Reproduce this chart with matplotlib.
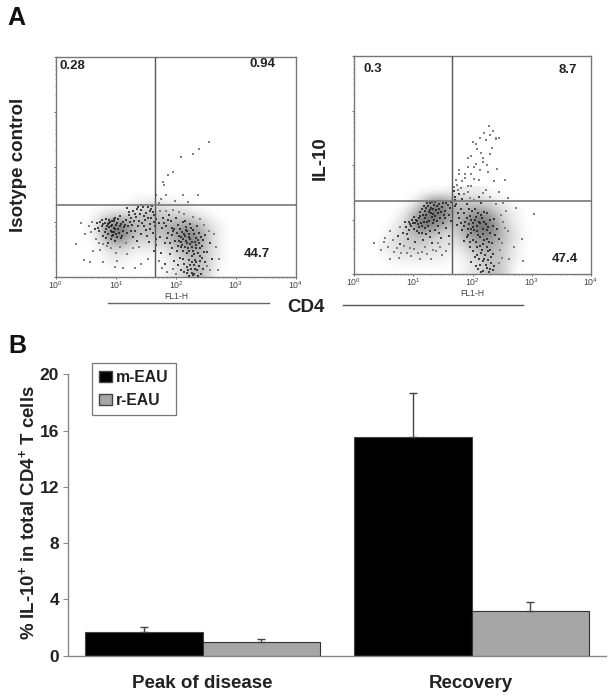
import numpy as np
import matplotlib
matplotlib.use('Agg')
import matplotlib.pyplot as plt
from matplotlib.patches import Patch

plt.rcParams['font.family'] = ['Liberation Sans', 'DejaVu Sans']
plt.rcParams['mathtext.fontset'] = 'custom'
plt.rcParams['mathtext.rm'] = 'Liberation Sans'
plt.rcParams['mathtext.bf'] = 'Liberation Sans:bold'

W, H = 613, 700

# panel A, all in decades of fluorescence (0 = 10^0, 4 = 10^4)
density_x_edges = [0.4, 3.0]
density_y_edges = [0.0, 1.6]
left_density = [
    [0, 0, 0, 0, 0, 0, 0, 0, 0, 0, 0, 0, 0],
    [0, 0, 0, 0, 1, 2, 2, 1, 1, 0, 0, 0, 0],
    [0, 1, 3, 3, 3, 4, 4, 3, 3, 2, 1, 0, 0],
    [0, 2, 8, 9, 4, 4, 4, 5, 6, 6, 3, 1, 0],
    [0, 1, 6, 7, 3, 3, 3, 4, 7, 8, 4, 1, 0],
    [0, 0, 2, 2, 1, 1, 1, 2, 4, 6, 3, 1, 0],
    [0, 0, 1, 1, 0, 0, 0, 1, 2, 4, 3, 1, 0],
    [0, 0, 0, 0, 0, 0, 0, 1, 2, 5, 3, 0, 0],
]
right_density = [
    [0, 0, 0, 0, 0, 0, 1, 1, 1, 0, 0, 0, 0],
    [0, 0, 0, 2, 7, 7, 4, 3, 3, 2, 1, 0, 0],
    [0, 0, 2, 6, 9, 8, 4, 5, 7, 5, 2, 1, 0],
    [0, 1, 3, 9, 8, 5, 3, 7, 9, 8, 3, 1, 0],
    [0, 2, 3, 4, 3, 2, 2, 5, 7, 7, 4, 2, 0],
    [1, 2, 3, 3, 2, 2, 1, 3, 5, 5, 3, 1, 0],
    [0, 1, 1, 1, 1, 1, 0, 1, 3, 4, 3, 1, 0],
    [0, 0, 0, 0, 0, 0, 0, 1, 2, 4, 3, 0, 0],
]

left_cells = [
    (0.93, 0.95), (0.88, 0.91), (0.97, 1.02), (1.03, 0.88), (0.81, 0.99), (0.91, 0.84), (1.08, 0.97), (0.76, 0.92),
    (0.95, 0.76), (1.01, 0.72), (0.86, 0.78), (1.12, 0.83), (0.72, 0.83), (0.99, 1.08), (0.84, 1.05), (1.16, 1.03),
    (0.68, 0.98), (0.92, 0.69), (1.06, 1.11), (0.79, 0.74), (1.2, 0.92), (0.65, 0.88), (1.1, 0.75), (0.9, 1.0),
    (0.96, 0.9), (0.83, 0.87), (1.0, 0.95), (1.05, 0.8), (0.87, 0.96), (0.94, 0.82), (1.13, 0.91), (0.77, 1.03),
    (1.25, 1.07), (1.31, 1.15), (1.38, 1.02), (1.42, 1.22), (1.27, 0.95), (1.47, 1.11), (1.53, 1.27), (1.35, 1.24),
    (1.58, 1.08), (1.44, 0.98), (1.62, 1.19), (1.5, 0.86), (1.56, 0.97), (1.6, 1.29), (1.32, 0.84), (1.65, 0.92),
    (1.66, 1.05), (1.62, 0.8), (1.41, 1.31), (1.22, 1.18), (1.18, 1.26), (1.29, 0.72), (1.55, 0.63), (1.63, 0.48),
    (1.72, 0.98), (1.78, 1.08), (1.84, 0.92), (1.91, 1.01), (1.97, 0.87), (2.04, 0.95), (2.1, 0.82), (2.16, 0.91),
    (2.22, 0.78), (2.28, 0.86), (2.33, 0.71), (2.38, 0.8), (2.45, 0.67), (2.12, 0.69), (2.05, 0.75), (1.98, 0.66),
    (2.19, 0.62), (2.26, 0.55), (2.31, 0.63), (2.4, 0.52), (2.15, 1.02), (2.24, 0.97), (2.35, 0.93), (1.88, 1.12),
    (1.74, 0.72), (1.81, 0.61), (1.93, 0.53), (2.01, 0.47), (2.09, 0.55), (2.18, 0.44), (2.27, 0.39), (2.36, 0.43),
    (2.44, 0.35), (2.21, 0.31), (2.3, 0.22), (2.14, 0.24), (2.25, 0.14), (2.35, 0.12), (2.19, 0.07), (2.28, 0.04),
    (2.38, 0.2), (2.48, 0.28), (2.09, 0.12), (2.42, 0.06), (2.52, 0.46), (2.57, 0.61), (2.49, 0.77), (2.6, 0.33),
    (2.07, 0.35), (1.96, 0.3), (1.82, 0.24), (1.75, 0.43), (2.23, 0.69), (2.13, 0.78), (2.34, 0.58), (2.29, 0.47),
    (2.17, 0.86), (2.08, 0.63), (2.42, 0.73), (2.2, 0.52), (2.32, 0.31), (2.26, 0.08), (1.86, 0.8), (1.94, 0.76),
    (0.89, 0.98), (0.94, 1.01), (0.99, 0.87), (1.02, 0.99), (0.85, 0.93), (0.91, 0.92), (0.97, 0.81), (1.07, 0.92),
    (0.79, 0.96), (0.82, 0.81), (1.0, 0.78), (1.04, 1.05), (0.88, 1.04), (0.93, 0.74), (0.96, 1.06), (1.11, 1.0),
    (0.74, 1.0), (0.7, 0.9), (1.15, 0.94), (0.84, 0.71), (1.09, 0.71), (1.18, 0.8), (0.98, 0.65), (0.87, 0.62),
    (1.23, 1.0), (1.34, 1.09), (1.4, 1.14), (1.28, 1.2), (1.45, 1.27), (1.5, 1.17), (1.37, 0.93), (1.56, 1.2),
    (1.48, 1.03), (1.53, 1.08), (1.59, 1.23), (1.63, 1.12), (1.3, 1.02), (1.21, 1.12), (1.36, 1.28), (1.46, 0.92),
    (1.57, 0.88), (1.64, 1.0), (1.67, 0.7), (1.66, 0.58), (1.52, 0.74), (1.42, 0.78), (1.25, 0.84), (1.35, 0.66),
    (1.76, 0.9), (1.8, 0.99), (1.87, 1.04), (1.93, 0.9), (2.0, 1.08), (2.07, 0.88), (2.11, 1.0), (2.19, 0.84),
    (2.25, 0.9), (2.3, 0.79), (2.15, 0.74), (2.09, 0.72), (2.01, 0.8), (2.21, 0.72), (2.27, 0.64), (2.36, 0.68),
    (2.17, 0.66), (2.1, 0.59), (2.05, 0.66), (2.24, 0.6), (2.33, 0.52), (2.15, 0.55), (2.22, 0.47), (2.3, 0.41),
    (2.12, 0.47), (2.04, 0.56), (1.9, 0.62), (1.85, 0.71), (1.95, 0.83), (2.38, 0.61), (2.43, 0.57), (2.47, 0.45),
    (2.4, 0.38), (2.34, 0.27), (2.27, 0.28), (2.18, 0.19), (2.24, 0.22), (2.32, 0.15), (2.4, 0.29), (2.45, 0.14),
    (2.3, 0.06), (2.22, 0.02), (2.14, 0.1), (2.36, 0.02), (2.2, 0.13), (2.12, 0.33), (2.03, 0.22), (1.9, 0.42),
]
left_faint = [
    (0.33, 0.6), (0.58, 0.82), (0.66, 0.7), (0.46, 0.31), (0.56, 0.27), (0.62, 0.48), (0.73, 0.5), (0.79, 0.28),
    (1.0, 0.44), (1.01, 0.29), (0.98, 0.18), (1.12, 0.16), (1.41, 0.24), (1.32, 0.16), (1.53, 0.33), (0.85, 0.56),
    (1.19, 0.41), (1.28, 0.53), (2.55, 2.45), (2.39, 2.33), (2.28, 2.24), (2.09, 2.18), (1.95, 1.91), (1.87, 1.85),
    (1.79, 1.73), (1.8, 1.67), (1.67, 1.49), (1.83, 1.49), (2.12, 1.49), (2.37, 1.49), (1.75, 1.42), (1.98, 1.38),
    (2.2, 1.36), (1.71, 1.35), (2.72, 0.32), (2.67, 0.55), (2.7, 0.13), (2.64, 0.78), (0.48, 0.78), (0.42, 0.98),
    (0.6, 1.0), (0.55, 0.93), (0.71, 0.62), (0.78, 0.6), (0.92, 0.53), (1.07, 0.55), (1.16, 0.62), (1.39, 0.55),
    (1.76, 0.17), (1.72, 0.3), (1.85, 0.09), (1.95, 0.14), (2.0, 0.05), (2.52, 0.2), (2.56, 0.13), (2.55, 0.84),
    (2.47, 0.94), (2.4, 1.05), (2.28, 1.1), (2.05, 1.18), (1.73, 1.2), (1.95, 1.22), (2.14, 1.15), (1.83, 1.2),
]

right_cells = [
    (1.28, 1.17), (1.21, 1.22), (1.35, 1.26), (1.42, 1.12), (1.16, 1.08), (1.31, 1.05), (1.48, 1.23), (1.24, 1.31),
    (1.38, 1.18), (1.12, 1.14), (1.54, 1.16), (1.45, 1.02), (1.09, 1.02), (1.03, 0.93), (0.97, 0.88), (1.1, 0.86),
    (1.18, 0.95), (0.92, 0.96), (1.06, 0.79), (1.25, 0.88), (1.33, 0.94), (0.87, 0.87), (1.15, 0.75), (1.41, 0.88),
    (1.5, 0.94), (1.58, 1.27), (1.6, 1.09), (1.02, 1.05), (1.29, 0.78), (1.2, 1.03), (1.37, 1.33), (1.5, 1.31),
    (1.44, 1.29), (1.13, 0.93), (0.98, 1.0), (1.34, 1.1), (1.26, 0.98), (1.08, 0.91), (1.19, 1.16), (1.4, 1.24),
    (0.83, 0.76), (0.74, 0.69), (0.91, 0.65), (1.03, 0.58), (1.17, 0.63), (1.32, 0.56), (1.47, 0.66), (0.78, 0.55),
    (2.04, 0.99), (1.96, 1.06), (2.1, 1.12), (1.88, 0.95), (2.16, 1.02), (2.01, 0.87), (1.92, 0.83), (2.22, 0.92),
    (2.08, 0.78), (1.85, 1.12), (2.18, 0.82), (2.27, 0.86), (2.13, 0.93), (1.98, 0.75), (2.3, 0.75), (2.05, 1.2),
    (1.78, 1.02), (1.83, 0.8), (2.12, 0.67), (2.25, 0.65), (2.0, 0.62), (1.9, 0.68), (2.33, 0.56), (2.18, 0.55),
    (2.07, 0.5), (1.95, 0.49), (2.26, 0.43), (2.14, 0.38), (2.35, 0.36), (2.04, 0.31), (2.2, 0.28), (2.31, 0.2),
    (2.13, 0.17), (2.24, 0.11), (2.35, 0.08), (2.18, 0.06), (2.28, 0.03), (2.09, 0.09), (1.94, 1.2), (1.72, 1.28),
    (1.7, 1.42), (1.69, 1.52), (1.71, 1.35), (1.77, 1.47), (1.83, 1.38), (2.11, 1.42), (2.15, 1.31), (2.24, 1.12),
    (2.36, 1.01), (2.42, 0.83), (2.44, 0.64), (1.74, 0.9),
    (1.3, 1.22), (1.26, 1.13), (1.33, 1.19), (1.22, 1.09), (1.37, 1.07), (1.43, 1.2), (1.29, 1.3), (1.47, 1.14),
    (1.52, 1.08), (1.18, 1.25), (1.15, 1.19), (1.11, 1.07), (1.23, 0.96), (1.35, 0.99), (1.4, 0.97), (1.05, 1.0),
    (1.0, 0.93), (0.95, 0.92), (1.07, 0.97), (1.14, 0.88), (1.19, 0.84), (1.01, 0.83), (0.93, 0.8), (1.09, 0.76),
    (0.86, 0.96), (0.89, 0.74), (1.22, 0.73), (1.36, 0.8), (1.28, 0.67), (1.44, 0.76), (1.55, 0.85), (1.6, 0.7),
    (1.56, 1.3), (1.62, 1.22), (1.64, 1.33), (1.54, 1.02), (1.63, 0.98), (1.3, 1.12), (1.25, 1.25), (1.32, 1.33),
    (1.98, 0.99), (2.06, 1.04), (2.01, 0.94), (1.94, 0.92), (2.11, 0.96), (2.08, 0.88), (1.9, 1.03), (2.14, 1.08),
    (1.86, 0.88), (2.19, 0.95), (2.03, 0.8), (1.97, 0.83), (2.24, 0.8), (2.1, 0.72), (2.17, 0.74), (1.93, 0.72),
    (1.8, 0.93), (1.76, 1.12), (1.81, 1.2), (1.99, 1.15), (2.2, 1.14), (2.29, 1.0), (2.34, 0.88), (2.38, 0.72),
    (2.28, 0.58), (2.2, 0.62), (2.06, 0.58), (1.96, 0.58), (1.85, 0.6), (2.12, 0.52), (2.24, 0.5), (2.3, 0.44),
    (2.16, 0.44), (2.0, 0.42), (2.08, 0.35), (2.21, 0.35), (2.31, 0.31), (2.17, 0.23), (2.27, 0.25), (2.36, 0.14),
    (2.22, 0.16), (2.11, 0.27), (1.98, 0.22), (2.06, 0.14), (2.3, 0.1), (2.15, 0.04), (1.7, 1.24), (1.9, 1.28),
]
right_faint = [
    (0.33, 0.56), (0.45, 0.44), (0.52, 0.66), (0.61, 0.78), (0.68, 0.41), (0.76, 0.3), (0.9, 0.38), (1.02, 0.45),
    (1.12, 0.27), (1.24, 0.36), (1.38, 0.42), (1.49, 0.35), (0.6, 0.28), (0.78, 0.87), (1.6, 0.55), (2.52, 0.95),
    (2.6, 0.78), (2.7, 0.5), (2.83, 0.65), (2.62, 0.27), (2.85, 0.24), (3.03, 1.1), (2.73, 1.22), (2.57, 1.15),
    (2.4, 1.28), (2.3, 1.42), (2.44, 1.5), (1.98, 1.62), (2.23, 1.55), (2.11, 1.72), (1.87, 1.83), (2.02, 1.96),
    (2.18, 2.05), (1.92, 2.13), (2.27, 1.87), (2.42, 1.93), (2.08, 2.3), (2.3, 2.2), (2.0, 2.42), (2.12, 2.5),
    (2.2, 2.58), (2.4, 2.5), (2.45, 2.5), (2.35, 2.63), (2.28, 2.72), (1.98, 2.17), (1.78, 1.9), (2.55, 1.72),
    (0.66, 0.62), (0.72, 0.48), (0.84, 0.51), (0.95, 0.47), (1.08, 0.39), (1.2, 0.5), (1.33, 0.44), (1.45, 0.5),
    (0.58, 0.5), (0.5, 0.58), (0.8, 0.38), (0.97, 0.33), (1.15, 0.41), (1.3, 0.28), (1.42, 0.56), (1.55, 0.42),
    (2.5, 0.57), (2.47, 0.44), (2.5, 0.3), (2.45, 0.2), (2.55, 0.85), (2.48, 1.08), (2.52, 1.3), (2.6, 1.4),
    (1.74, 1.63), (1.93, 1.5), (1.82, 1.7), (2.02, 1.75), (1.68, 1.6), (1.72, 1.72), (1.75, 1.55), (1.8, 1.58),
    (1.86, 1.46), (2.02, 1.35), (1.96, 1.4), (2.18, 1.48), (1.92, 1.62), (1.87, 1.77), (1.78, 1.84), (1.98, 1.84),
    (2.12, 1.9), (2.06, 2.02), (1.93, 1.97), (2.15, 2.22), (2.24, 2.0), (2.33, 2.32), (2.22, 2.45), (2.06, 2.38),
    (2.4, 2.48), (2.3, 2.55), (2.17, 2.13), (2.36, 1.7),
]

left_gate = (1.645, 1.31)
right_gate = (1.66, 1.345)

# panel B
conditions = ['Peak of disease', 'Recovery']
m_eau = [1.7, 15.57]
r_eau = [1.0, 3.17]
m_err = [0.36, 3.08]
r_err = [0.17, 0.63]


def px_axes(fig, x0, y0, x1, y1):
    return fig.add_axes([x0 / W, 1 - y1 / H, (x1 - x0) / W, (y1 - y0) / H])


def flow_panel(ax, density, cells, faint, gate):
    ax.imshow(density, cmap='gray_r', vmin=0, vmax=15, aspect='auto', interpolation='bicubic',
              extent=[density_x_edges[0], density_x_edges[1], density_y_edges[0], density_y_edges[1]], zorder=1)
    fx, fy = np.array(faint).T
    ax.scatter(fx, fy, s=1.0, c='#808080', marker='s', linewidths=0, zorder=2)
    cx, cy = np.array(cells).T
    ax.scatter(cx, cy, s=1.1, c='#1a1a1a', marker='s', linewidths=0, alpha=0.8, zorder=2)
    ax.axvline(gate[0], color='#555555', lw=1.0, zorder=3)
    ax.axhline(gate[1], color='#777777', lw=1.2, zorder=3)
    ax.set_xlim(0, 4)
    ax.set_ylim(0, 4)
    decades = [0, 1, 2, 3, 4]
    minor = [d + np.log10(k) for d in range(4) for k in range(2, 10)]
    ax.set_xticks(decades)
    ax.set_xticklabels(['10$\\mathregular{^{%d}}$' % d for d in decades], fontsize=6.3, color='#444444')
    ax.set_yticks(decades)
    ax.set_yticklabels([])
    ax.set_xticks(minor, minor=True)
    ax.set_yticks(minor, minor=True)
    ax.tick_params(which='major', length=1.5, width=0.6, color='#555555', pad=0)
    ax.tick_params(which='minor', length=1.0, width=0.4, color='#555555')
    for sp in ax.spines.values():
        sp.set_color('#777777')
        sp.set_linewidth(1.0)


fig = plt.figure(figsize=(W / 100, H / 100), dpi=100)


def fig_text(x, y, s, **kw):
    kw.setdefault('ha', 'center')
    kw.setdefault('va', 'center')
    kw.setdefault('fontweight', 'bold')
    fig.text(x / W, 1 - y / H, s, **kw)


ax1 = px_axes(fig, 56, 57, 296, 277)
flow_panel(ax1, left_density, left_cells, left_faint, left_gate)
ax2 = px_axes(fig, 354, 56, 591, 274)
flow_panel(ax2, right_density, right_cells, right_faint, right_gate)

fig_text(16, 18, 'A', fontsize=18, color='#111111')
fig_text(17, 346, 'B', fontsize=18, color='#111111')
fig_text(19, 165, 'Isotype control', fontsize=13.5, rotation=90, color='#222222')
fig_text(320, 158, 'IL-10', fontsize=13.5, rotation=90, color='#222222')
fig_text(306, 308, 'CD4', fontsize=13.5, color='#222222')
fig_text(176, 296.5, 'FL1-H', fontsize=6.2, fontweight='normal', color='#444444')
fig_text(472, 293, 'FL1-H', fontsize=6.2, fontweight='normal', color='#444444')
for x, y, s in [(72, 66, '0.28'), (263, 64, '0.94'), (257, 254, '44.7'),
                (373, 69, '0.3'), (568, 70, '8.7'), (565, 259, '47.4')]:
    fig_text(x, y, s, fontsize=9.5, color='#222222')
fig.add_artist(plt.Line2D([108 / W, 269 / W], [1 - 303 / H] * 2, color='#666666', lw=1.0))
fig.add_artist(plt.Line2D([343 / W, 523 / W], [1 - 305 / H] * 2, color='#555555', lw=1.0))

ax3 = px_axes(fig, 68, 374.3, 606, 655.7)
x = np.arange(len(conditions))
bar_w = 0.437
ax3.bar(x - bar_w / 2, m_eau, bar_w, color='black', edgecolor='#444444', linewidth=0.8)
ax3.bar(x + bar_w / 2, r_eau, bar_w, color='#a6a6a6', edgecolor='#333333', linewidth=0.8)
for xs, vals, errs in [(x - bar_w / 2, m_eau, m_err), (x + bar_w / 2, r_eau, r_err)]:
    ax3.errorbar(xs, vals, yerr=[[0, 0], errs], fmt='none', ecolor='#444444', elinewidth=1.0,
                 capsize=3, capthick=1.0)
ax3.set_xlim(-0.5, 1.5)
ax3.set_ylim(0, 20)
ax3.set_yticks([0, 4, 8, 12, 16, 20])
ax3.set_xticks([])
ax3.tick_params(axis='y', length=3.5, width=0.8, color='#888888', labelsize=12.5, pad=3,
                labelcolor='#222222')
for lab in ax3.get_yticklabels():
    lab.set_fontweight('bold')
ax3.spines['top'].set_visible(False)
ax3.spines['right'].set_visible(False)
ax3.spines['left'].set_color('#888888')
ax3.spines['bottom'].set_color('#888888')
ax3.spines['left'].set_linewidth(1.0)
ax3.spines['bottom'].set_linewidth(1.0)

fig_text(28, 513, r'% IL-10$\mathbf{^{+}}$ in total CD4$\mathbf{^{+}}$ T cells', fontsize=13.4,
         rotation=90, color='#222222')
fig_text(202, 683, conditions[0], fontsize=13.5, color='#222222')
fig_text(471, 684, conditions[1], fontsize=13.5, color='#222222')

handles = [Patch(facecolor='black', edgecolor='#444444', label='m-EAU'),
           Patch(facecolor='#a6a6a6', edgecolor='#444444', label='r-EAU')]
leg = ax3.legend(handles=handles, loc='upper left',
                 bbox_to_anchor=((92 - 68) / 538, (655.7 - 363) / 281.4), borderaxespad=0,
                 prop={'weight': 'bold', 'size': 11.3}, fancybox=False, edgecolor='#777777',
                 framealpha=1, handlelength=0.85, handleheight=0.7, handletextpad=0.25,
                 labelspacing=0.5, borderpad=0.45)
for t in leg.get_texts():
    t.set_color('#222222')
leg.get_frame().set_linewidth(0.9)

fig.savefig('out.png', dpi=100)
